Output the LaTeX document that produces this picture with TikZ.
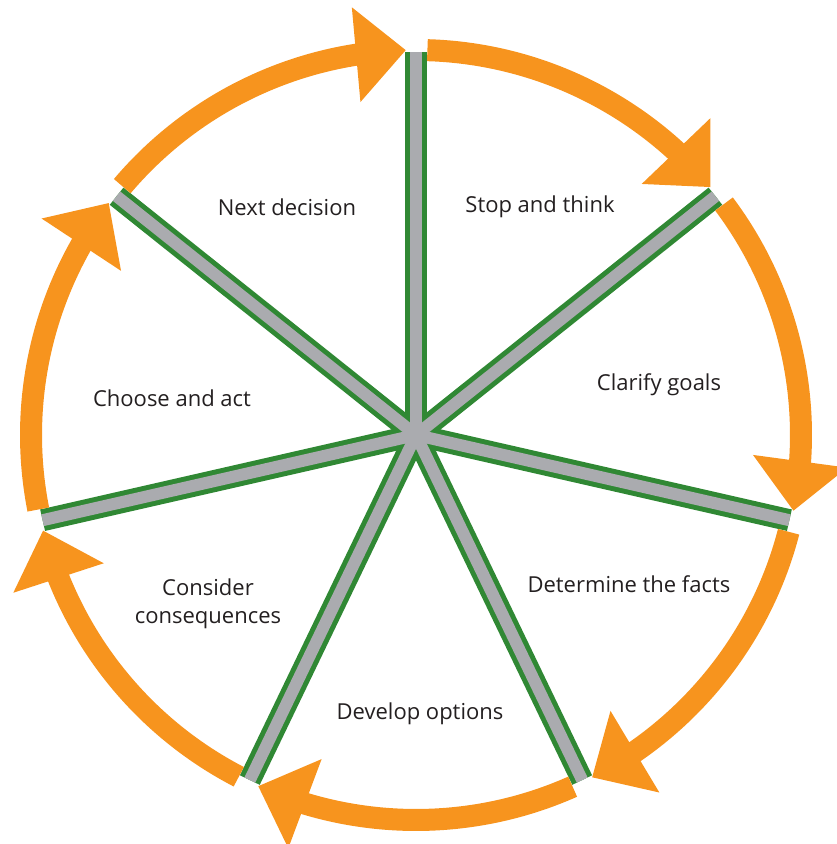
\documentclass[tikz,border=0pt]{standalone}
\usepackage{fontspec}
\setmainfont{Open Sans}
\usepackage{xcolor}
\usetikzlibrary{arrows.meta,bending}
\definecolor{cycorange}{RGB}{247,148,30}
\definecolor{spokegreen}{RGB}{48,136,52}
\definecolor{spokegray}{RGB}{170,171,175}
\definecolor{labeltext}{RGB}{35,31,32}

\begin{document}
\begin{tikzpicture}[
  x=1pt, y=1pt,
  rim/.style={line width=22pt, cycorange, -{Triangle[length=50pt, width=92pt]}},
  edge/.style={line width=22pt, spokegreen},
  core/.style={line width=12pt, spokegray},
  lbl/.style={font=\fontsize{22}{28}\selectfont, text=labeltext, align=center}
]
\useasboundingbox (0,0) rectangle (837,844);
\coordinate (c) at (416,409);
\coordinate (s0) at ([shift={(90:383)}]c);
\coordinate (s1) at ([shift={(38.571:383)}]c);
\coordinate (s2) at ([shift={(-12.857:383)}]c);
\coordinate (s3) at ([shift={(-64.286:383)}]c);
\coordinate (s4) at ([shift={(-115.714:383)}]c);
\coordinate (s5) at ([shift={(-167.143:383)}]c);
\coordinate (s6) at ([shift={(141.429:383)}]c);

\draw[edge] (c) -- (s0);
\draw[edge] (c) -- (s1);
\draw[edge] (c) -- (s2);
\draw[edge] (c) -- (s3);
\draw[edge] (c) -- (s4);
\draw[edge] (c) -- (s5);
\draw[edge] (c) -- (s6);
\draw[core] (c) -- (s0);
\draw[core] (c) -- (s1);
\draw[core] (c) -- (s2);
\draw[core] (c) -- (s3);
\draw[core] (c) -- (s4);
\draw[core] (c) -- (s5);
\draw[core] (c) -- (s6);

\draw[rim] ([shift={(88.3:385)}]c) arc[start angle=88.3, end angle=40.07, radius=385];
\draw[rim] ([shift={(36.87:385)}]c) arc[start angle=36.87, end angle=-11.36, radius=385];
\draw[rim] ([shift={(-14.56:385)}]c) arc[start angle=-14.56, end angle=-62.79, radius=385];
\draw[rim] ([shift={(-65.99:385)}]c) arc[start angle=-65.99, end angle=-114.21, radius=385];
\draw[rim] ([shift={(-117.41:385)}]c) arc[start angle=-117.41, end angle=-165.64, radius=385];
\draw[rim] ([shift={(-168.84:385)}]c) arc[start angle=-168.84, end angle=-217.07, radius=385];
\draw[rim] ([shift={(139.73:385)}]c) arc[start angle=139.73, end angle=91.5, radius=385];

\node[lbl] (stop) at (540,637) {Stop and think};
\node[lbl] (goals) at (659,459) {Clarify goals};
\node[lbl] (facts) at (629,260) {Determine the facts};
\node[lbl] (options) at (420,130) {Develop options};
\node[lbl] (conseq) at (208,240) {Consider\\consequences};
\node[lbl] (act) at (172,446) {Choose and act};
\node[lbl] (next) at (287,637) {Next decision};
\end{tikzpicture}
\end{document}
